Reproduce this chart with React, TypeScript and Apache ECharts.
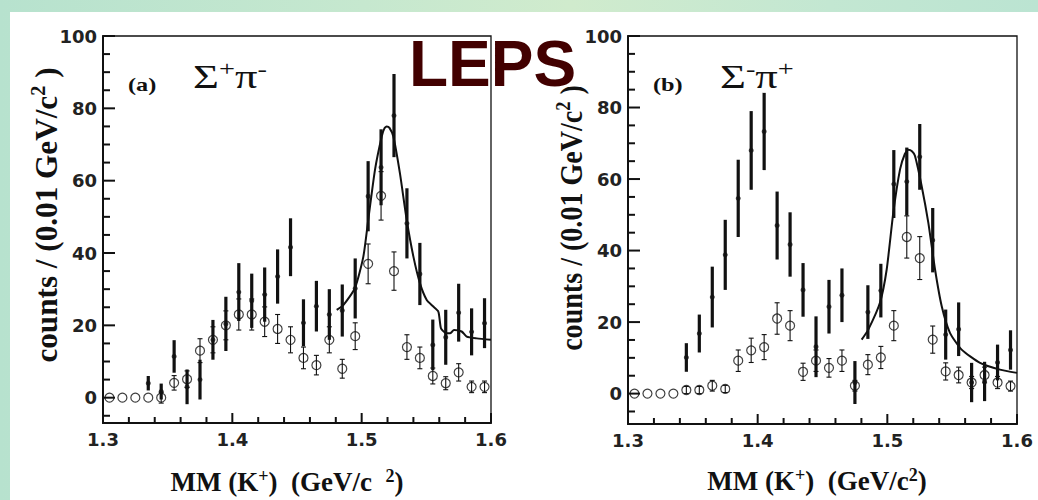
import React, { useEffect, useRef } from "react";
import * as echarts from "echarts";

// ---------- data ----------
const massBins = [
  1.305, 1.315, 1.325, 1.335, 1.345, 1.355, 1.365, 1.375, 1.385, 1.395,
  1.405, 1.415, 1.425, 1.435, 1.445, 1.455, 1.465, 1.475, 1.485, 1.495,
  1.505, 1.515, 1.525, 1.535, 1.545, 1.555, 1.565, 1.575, 1.585, 1.595,
];

// panel (a) Σ+π−
const aSolid = [null, null, null, 4.0, 1.7, 11.4, 3.0, 5.0, 16.0, 20.4, 29.2, 26.8, 28.5, 33.5, 41.6, 20.7, 25.3, 23.0, 24.1, 30.2, 55.7, 63.7, 78.0, 48.2, 34.2, 14.6, 16.7, 23.5, 18.2, 20.6];
const aSolidErr = [null, null, null, 2.0, 2.2, 4.5, 4.8, 5.5, 5.5, 7.5, 8.0, 7.5, 7.5, 7.5, 8.0, 6.5, 7.0, 7.0, 7.2, 8.3, 9.7, 10.5, 11.5, 9.7, 8.6, 7.0, 7.6, 8.0, 6.5, 6.9];
const aOpen = [0, 0, 0, 0, 0, 4.1, 5.1, 13, 16, 20, 23, 23, 21, 19, 16, 11, 9, 16, 8, 17, 37, 55.8, 35, 14, 11, 6, 4, 7, 3, 3];
const aOpenErr = [0, 0, 0, 0, 1.5, 2, 2.3, 3.3, 3.6, 4, 4.3, 4.3, 4.1, 4, 3.6, 3, 2.7, 3.6, 2.6, 3.7, 5.5, 6.7, 5.3, 3.4, 3, 2.2, 1.8, 2.4, 1.6, 1.6];
const aFitMass = [1.4807, 1.4858, 1.4948, 1.5013, 1.5051, 1.5103, 1.5155, 1.5175, 1.5194, 1.5215, 1.5245, 1.5296, 1.5348, 1.54, 1.5451, 1.5503, 1.5554, 1.5593, 1.5613, 1.5644, 1.5683, 1.5714, 1.5773, 1.5812, 1.589, 1.6];
const aFitCounts = [24.3, 25.6, 30.3, 39.0, 49.2, 63.0, 72.2, 74.4, 75.0, 74.6, 72.2, 62.0, 49.2, 39.0, 31.6, 27.0, 25.2, 23.8, 19.2, 18.0, 17.8, 18.7, 18.3, 16.9, 16.4, 16.0];

// panel (b) Σ−π+
const bSolid = [null, null, null, null, 10.1, 16.8, 27, 38.8, 54.6, 68, 73.3, 47, 41.7, 29, 13.1, 24.3, 27.5, 3.1, 22.8, 28.8, 58.6, 59.3, 66.2, 42.9, 16.5, 18, 3.1, 3.4, 8.7, 12.2];
const bSolidErr = [null, null, null, null, 4, 5.3, 8.5, 9.8, 10.8, 11, 10.8, 9.5, 9, 7.5, 8.5, 7.5, 7.5, 6, 7.5, 7.5, 9.5, 9.5, 9.2, 9, 7, 7.5, 5.5, 5.5, 5, 5.5];
const bOpen = [0, 0, 0, 0, 1, 1, 2.2, 1.3, 9.2, 12.1, 13, 21, 19, 6.1, 9.2, 7.2, 9.2, 2.2, 8.1, 10.1, 19, 43.8, 37.9, 15.1, 6.2, 5.2, 3.1, 5.2, 3.1, 2.1];
const bOpenErr = [0, 0, 0, 0, 1, 1, 1.5, 1, 3, 3.4, 3.5, 4.4, 4.2, 2.4, 3, 2.6, 3, 1.5, 2.8, 3.1, 4.2, 5.9, 6, 3.8, 2.4, 2.2, 1.7, 2.2, 1.7, 1.4];
const bFitMass = [1.4802, 1.4853, 1.4943, 1.4995, 1.5046, 1.5098, 1.5135, 1.5162, 1.519, 1.5213, 1.5265, 1.5316, 1.5368, 1.5419, 1.5483, 1.5573, 1.5715, 1.5869, 1.6];
const bFitCounts = [15.1, 17.9, 25.4, 34.7, 50.6, 62.7, 67.0, 68.2, 67.8, 66.5, 58.0, 47.8, 34.7, 24.5, 17.0, 12.3, 8.6, 6.7, 5.8];

// axis ticks
const xTickLabels = [1.3, 1.4, 1.5, 1.6];
const xMinorTicks = [1.32, 1.34, 1.36, 1.38, 1.42, 1.44, 1.46, 1.48, 1.52, 1.54, 1.56, 1.58];
const yTickLabels = [0, 20, 40, 60, 80, 100];
const yMinorTicks = [-5, 5, 10, 15, 25, 30, 35, 45, 50, 55, 65, 70, 75, 85, 90, 95];

const INK = "#111111";
const SERIF = "'Liberation Serif', 'Times New Roman', serif";
const SANS = "'Liberation Sans', Arial, sans-serif";
const TICKFONT = "'DejaVu Sans', sans-serif";

function errData(vals: (number | null)[], errs: (number | null)[]) {
  const out: number[][] = [];
  massBins.forEach((m, i) => {
    const v = vals[i];
    const e = errs[i];
    if (v == null || e == null || e === 0) return;
    out.push([m, v - e, v + e]);
  });
  return out;
}

function pointData(vals: (number | null)[]) {
  const out: number[][] = [];
  massBins.forEach((m, i) => {
    const v = vals[i];
    if (v == null) return;
    out.push([m, v]);
  });
  return out;
}

function makeErrRender(thick: boolean) {
  return (_params: any, api: any) => {
    const x = api.value(0);
    const lo = api.value(1);
    const hi = api.value(2);
    const p1 = api.coord([x, hi]);
    const p2 = api.coord([x, lo]);
    const children: any[] = [
      {
        type: "line",
        shape: { x1: p1[0], y1: p1[1], x2: p2[0], y2: p2[1] },
        style: { stroke: INK, lineWidth: thick ? 3.2 : 1.1 },
      },
    ];
    if (!thick) {
      const c = 2.5;
      children.push({
        type: "line",
        shape: { x1: p1[0] - c, y1: p1[1], x2: p1[0] + c, y2: p1[1] },
        style: { stroke: INK, lineWidth: 1.1 },
      });
      children.push({
        type: "line",
        shape: { x1: p2[0] - c, y1: p2[1], x2: p2[0] + c, y2: p2[1] },
        style: { stroke: INK, lineWidth: 1.1 },
      });
    }
    return { type: "group", children };
  };
}

function axesFor(gi: number, yMin: number) {
  const labelStyle = {
    fontFamily: TICKFONT,
    fontWeight: "bold" as const,
    fontSize: 18,
    color: "#222",
  };
  const x = {
    type: "value",
    gridIndex: gi,
    position: "bottom",
    min: 1.3,
    max: 1.6,
    axisLine: { show: true, onZero: false, lineStyle: { color: INK, width: 2 } },
    axisTick: { show: false },
    axisLabel: { show: true, customValues: xTickLabels, formatter: (v: number) => v.toFixed(1), margin: 7, ...labelStyle },
    splitLine: { show: false },
  };
  const y = {
    type: "value",
    gridIndex: gi,
    position: "left",
    min: yMin,
    max: 100,
    axisLine: { show: true, onZero: false, lineStyle: { color: INK, width: 2 } },
    axisTick: { show: false },
    axisLabel: { show: true, customValues: yTickLabels, formatter: (v: number) => String(v), margin: 6, ...labelStyle },
    splitLine: { show: false },
  };
  return { x, y };
}

function seriesFor(
  axisIdx: number,
  solid: (number | null)[],
  solidErr: (number | null)[],
  open: number[],
  openErr: number[],
  fitX: number[],
  fitY: number[]
) {
  return [
    {
      type: "line",
      xAxisIndex: axisIdx,
      yAxisIndex: axisIdx,
      data: fitX.map((m, i) => [m, fitY[i]]),
      symbol: "none",
      smooth: 0.2,
      lineStyle: { color: INK, width: 2 },
      silent: true,
      z: 3,
    },
    {
      type: "custom",
      xAxisIndex: axisIdx,
      yAxisIndex: axisIdx,
      data: errData(open, openErr),
      encode: { x: 0, y: [1, 2] },
      renderItem: makeErrRender(false),
      silent: true,
      z: 4,
    },
    {
      type: "custom",
      xAxisIndex: axisIdx,
      yAxisIndex: axisIdx,
      data: errData(solid, solidErr),
      encode: { x: 0, y: [1, 2] },
      renderItem: makeErrRender(true),
      silent: true,
      z: 5,
    },
    {
      type: "scatter",
      xAxisIndex: axisIdx,
      yAxisIndex: axisIdx,
      data: pointData(open),
      symbol: "circle",
      symbolSize: 9,
      itemStyle: { color: "rgba(255,255,255,0)", borderColor: INK, borderWidth: 1.2 },
      silent: true,
      z: 6,
    },
    {
      type: "scatter",
      xAxisIndex: axisIdx,
      yAxisIndex: axisIdx,
      data: pointData(solid),
      symbol: "circle",
      symbolSize: 5,
      itemStyle: { color: INK },
      silent: true,
      z: 7,
    },
  ];
}

function richLabel(x: number, y: number, text: string, main: number, sup: number, supRaise: number, bold: boolean, scaleX: number) {
  return {
    type: "text",
    x,
    y,
    scaleX,
    z: 50,
    style: {
      text,
      align: "left",
      verticalAlign: "bottom",
      fill: INK,
      rich: {
        m: { fontFamily: SERIF, fontSize: main, fontWeight: bold ? "bold" : "normal", verticalAlign: "bottom", fill: INK },
        s: { fontFamily: SERIF, fontSize: sup, fontWeight: bold ? "bold" : "normal", verticalAlign: "bottom", padding: [0, 0, supRaise, 0], fill: INK },
      },
    },
  };
}

function yTitle(x: number, y: number, stretch: number) {
  return {
    type: "text",
    x,
    y,
    rotation: Math.PI / 2,
    scaleX: stretch,
    scaleY: 1.2,
    z: 50,
    style: {
      text: "{m|counts / (0.01 GeV/c}{s|2}{m| )}",
      align: "center",
      verticalAlign: "middle",
      fill: INK,
      rich: {
        m: { fontFamily: SERIF, fontSize: 26, fontWeight: "bold", verticalAlign: "bottom", fill: INK },
        s: { fontFamily: SERIF, fontSize: 17, fontWeight: "bold", verticalAlign: "bottom", padding: [0, 0, 11, 0], fill: INK },
      },
    },
  };
}

function xTitle(x: number, y: number, text: string) {
  return {
    type: "text",
    x,
    y,
    z: 50,
    style: {
      text,
      align: "center",
      verticalAlign: "middle",
      fill: INK,
      rich: {
        m: { fontFamily: SERIF, fontSize: 27, fontWeight: "bold", verticalAlign: "bottom", fill: INK },
        s: { fontFamily: SERIF, fontSize: 18, fontWeight: "bold", verticalAlign: "bottom", padding: [0, 0, 11, 0], fill: INK },
      },
    },
  };
}

export default function App() {
  const ref = useRef<HTMLDivElement>(null);

  useEffect(() => {
    if (!ref.current) return;
    const chart = echarts.init(ref.current, undefined, { renderer: "svg" });
    const yMins = [-7, -8.5];
    const left = axesFor(0, yMins[0]);
    const right = axesFor(1, yMins[1]);

    const textEls: any[] = [
      richLabel(128, 94, "{m|(a)}", 18, 12, 0, true, 1.35),
      richLabel(193, 93, "{m|Σ}{s|+}{m|π}{s|-}", 33, 21, 14, false, 1.35),
      richLabel(653, 94, "{m|(b)}", 18, 12, 0, true, 1.35),
      richLabel(720, 93, "{m|Σ}{s|-}{m|π}{s|+}", 33, 21, 14, false, 1.35),
      yTitle(45, 215, 1.2),
      yTitle(570, 218, 1.08),
      xTitle(287, 481, "{m|MM (K}{s|+}{m|)  (GeV/c  }{s|2}{m|)}"),
      xTitle(817, 480, "{m|MM (K}{s|+}{m|)  (GeV/c}{s|2}{m|)}"),
      {
        type: "text",
        x: 409,
        y: 64,
        z: 60,
        style: {
          text: "LEPS",
          align: "left",
          verticalAlign: "middle",
          fontFamily: SANS,
          fontSize: 64,
          fontWeight: "bold",
          fill: "#420000",
        },
      },
    ];

    const option: any = {
      animation: false,
      backgroundColor: "transparent",
      grid: [
        { left: 103, top: 36, width: 388, height: 387, show: true, borderColor: INK, borderWidth: 1.3, backgroundColor: "transparent", containLabel: false },
        { left: 628, top: 36, width: 389, height: 388, show: true, borderColor: INK, borderWidth: 1.3, backgroundColor: "transparent", containLabel: false },
      ],
      xAxis: [left.x, right.x],
      yAxis: [left.y, right.y],
      series: [
        ...seriesFor(0, aSolid, aSolidErr, aOpen, aOpenErr, aFitMass, aFitCounts),
        ...seriesFor(1, bSolid, bSolidErr, bOpen, bOpenErr, bFitMass, bFitCounts),
      ],
      graphic: { elements: textEls },
    };
    chart.setOption(option);

    // inward tick marks, positioned through the axes' own scales
    const tickEls: any[] = [];
    const seg = (x1: number, y1: number, x2: number, y2: number) => ({
      type: "line",
      z: 40,
      silent: true,
      shape: { x1, y1, x2, y2 },
      style: { stroke: INK, lineWidth: 2 },
    });
    [0, 1].forEach((gi) => {
      const yMin = yMins[gi];
      yTickLabels.forEach((v) => {
        const p = chart.convertToPixel({ gridIndex: gi } as any, [1.3, v]) as number[];
        tickEls.push(seg(p[0], p[1], p[0] + 12, p[1]));
      });
      yMinorTicks.forEach((v) => {
        const p = chart.convertToPixel({ gridIndex: gi } as any, [1.3, v]) as number[];
        tickEls.push(seg(p[0], p[1], p[0] + 7, p[1]));
      });
      xTickLabels.forEach((m) => {
        const p = chart.convertToPixel({ gridIndex: gi } as any, [m, yMin]) as number[];
        tickEls.push(seg(p[0], p[1], p[0], p[1] - 10));
      });
      xMinorTicks.forEach((m) => {
        const p = chart.convertToPixel({ gridIndex: gi } as any, [m, yMin]) as number[];
        tickEls.push(seg(p[0], p[1], p[0], p[1] - 6));
      });
    });
    chart.setOption({ graphic: { elements: [...textEls, ...tickEls] } });

    return () => chart.dispose();
  }, []);

  return (
    <div
      style={{
        position: "fixed",
        left: 0,
        top: 0,
        width: 1038,
        height: 500,
        background: "linear-gradient(90deg, #b7e2ce 0%, #c6e8cf 35%, #d0ebcd 55%, #c3e7d2 80%, #bbe4d2 100%)",
      }}
    >
      <div style={{ position: "absolute", left: 10, top: 12, width: 1028, height: 488, background: "#ffffff" }} />
      <div ref={ref} style={{ position: "absolute", left: 0, top: 0, width: 1038, height: 500 }} />
    </div>
  );
}
